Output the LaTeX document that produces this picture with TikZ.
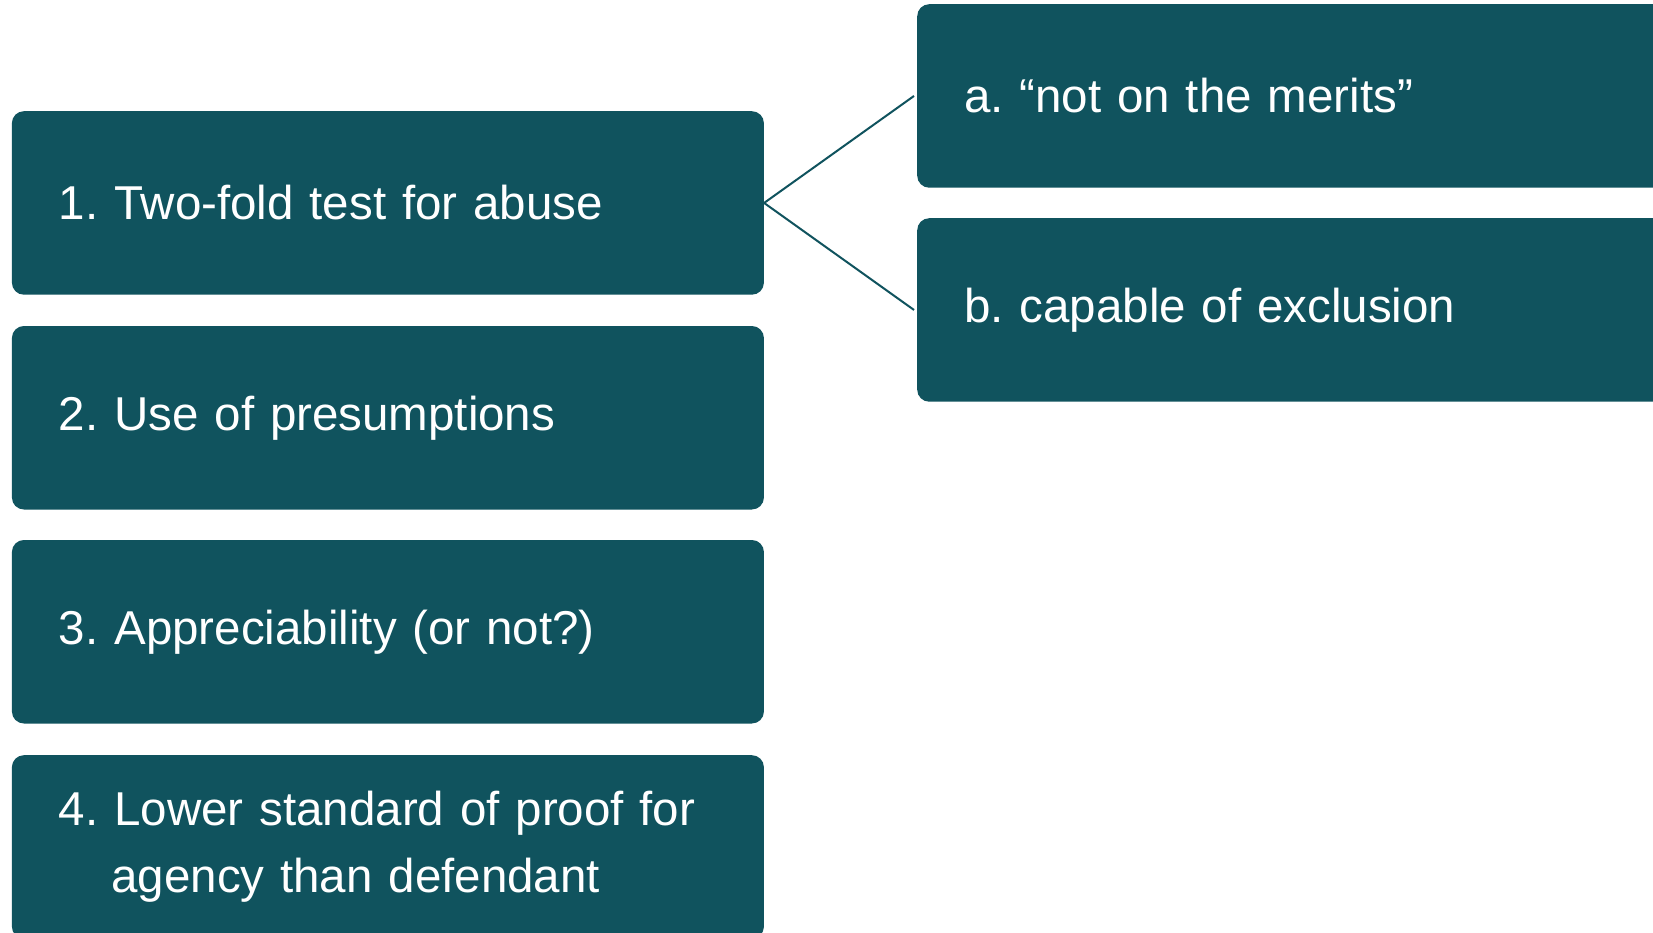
\documentclass[tikz,border=0pt]{standalone}
\usepackage{fontspec}
\setmainfont{Liberation Sans}
\definecolor{boxteal}{RGB}{16,83,94}
\frenchspacing
\newcommand\boxfont{\fontsize{47.5}{67}\selectfont\spaceskip=0.24em\relax}

\begin{document}
\begin{tikzpicture}[x=1pt,y=-1pt,
    itembox/.style={fill=boxteal, rounded corners=12pt, anchor=north west,
      minimum height=183.5pt, inner xsep=47pt, inner ysep=0pt, text=white,
      align=left, font=\boxfont},
    leftbox/.style={itembox, text width=658pt},
    rightbox/.style={itembox, text width=706pt},
    connector/.style={draw=boxteal, line width=2pt}]
          \useasboundingbox (0,0) rectangle (1653,932);
          \clip (0,0) rectangle (1653,932);
          % left column
          \node[leftbox] (one) at (11.7,111) {1. Two-fold test for abuse};
          \node[leftbox] (two) at (11.7,325.8) {2. Use of presumptions};
          \node[leftbox] (three) at (11.7,539.8) {3. Appreciability (or not?)};
          \node[leftbox] (four) at (11.7,755) {4. Lower standard of proof for\\\hspace*{52.5pt}agency than defendant};
          % right column
          \node[rightbox] (merits) at (917,4) {a. “not on the merits”};
          \node[rightbox] (exclusion) at (917,218) {b. capable of exclusion};
          % lines from the test to its two parts
          \draw[connector] (one.east) -- ([xshift=-3pt]merits.west);
          \draw[connector] (one.east) -- ([xshift=-3pt]exclusion.west);
        \end{tikzpicture}
\end{document}
